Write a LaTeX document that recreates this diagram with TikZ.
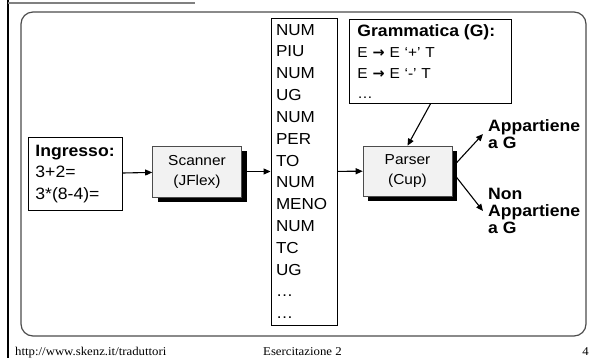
\documentclass[tikz,border=0pt]{standalone}
\usepackage{fontspec}
\setmainfont{Liberation Sans}[FakeStretch=1.07]
\newfontfamily\footfont{Liberation Serif}[FakeStretch=1.07]
\newfontfamily\symfont{DejaVu Sans}
\usetikzlibrary{arrows.meta,shadows}
\definecolor{procfill}{gray}{0.95}
\definecolor{framegray}{gray}{0.3}
\newcommand{\prodarrow}{{\symfont\bfseries →}}

\begin{document}
\begin{tikzpicture}[x=1bp,y=-1bp,
    every node/.style={inner sep=0pt},
    plainbox/.style={draw=black,line width=0.9bp,fill=white},
    procbox/.style={draw=black!70,line width=0.6bp,fill=procfill,
      drop shadow={shadow xshift=5bp,shadow yshift=-5bp,fill=black,opacity=1},
      align=center,font=\fontsize{14.5}{20}\selectfont},
    flow/.style={-{Triangle[length=7bp,width=6bp]},line width=1.1bp},
    result/.style={anchor=west,align=left,font=\fontsize{16.5}{17}\selectfont\bfseries},
    footer/.style={font=\footfont\fontsize{12}{12}\selectfont}]
    \useasboundingbox (0,0) rectangle (592,358);
    % slide frame
    \draw [black,line width=2bp] (8,0) -- (8,358);
    \draw [gray,line width=2bp] (8,3) -- (195,3);
    \draw [framegray,line width=1.2bp,rounded corners=12bp] (21,12) rectangle (586,336);
    % blocks
    \node [plainbox,anchor=north west,minimum width=94bp,minimum height=73bp,text width=80bp,
      align=left,font=\fontsize{16.5}{21.5}\selectfont] (ingresso) at (28,137)
      {\textbf{Ingresso:}\\3+2=\\3*(8-4)=};
    \node [procbox,minimum width=89bp,minimum height=51bp] (scanner) at (197,171.5) {Scanner\\(JFlex)};
    \node [plainbox,minimum width=66bp,minimum height=307bp,text width=56bp,
      align=left,font=\fontsize{16}{21.9}\selectfont] (tokens) at (304,171.5)
      {NUM\\PIU\\NUM\\UG\\NUM\\PER\\TO\\NUM\\MENO\\NUM\\TC\\UG\\…\\…};
    \node [procbox,minimum width=89bp,minimum height=50bp] (parser) at (407.5,171) {Parser\\(Cup)};
    \node [plainbox,anchor=north west,minimum width=162bp,minimum height=84bp,text width=146bp,
      align=left,font=\fontsize{14.5}{18.5}\selectfont] (grammar) at (349,19)
      {{\fontsize{16.5}{18.5}\selectfont\bfseries Grammatica (G):}\\[3bp]
       E \prodarrow\ E ‘+’ T\\[2bp]
       E \prodarrow\ E ‘-’ T\\[2bp]
       …};
    \node [result] (member) at (488,134) {Appartiene\\a G};
    \node [result] (nonmember) at (488,211) {Non\\Appartiene\\a G};
    % connectors
    \draw [flow] (ingresso) -- (scanner);
    \draw [flow] ([xshift=5bp]scanner.east) -- (tokens);
    \draw [flow] (tokens) -- (parser);
    \draw [flow] (grammar.south) -- (parser.north);
    \draw [flow] ([xshift=4bp,yshift=8bp]parser.east) -- ([xshift=-5bp]member.west);
    \draw [flow] ([xshift=4bp,yshift=-6bp]parser.east) -- ([xshift=-5bp]nonmember.west);
    % footer
    \node [footer,anchor=base west] (url) at (15,355) {http://www.skenz.it/traduttori};
    \node [footer,anchor=base west] (session) at (263,355) {Esercitazione 2};
    \node [footer,anchor=base east] (page) at (589,355) {4};
\end{tikzpicture}
\end{document}
